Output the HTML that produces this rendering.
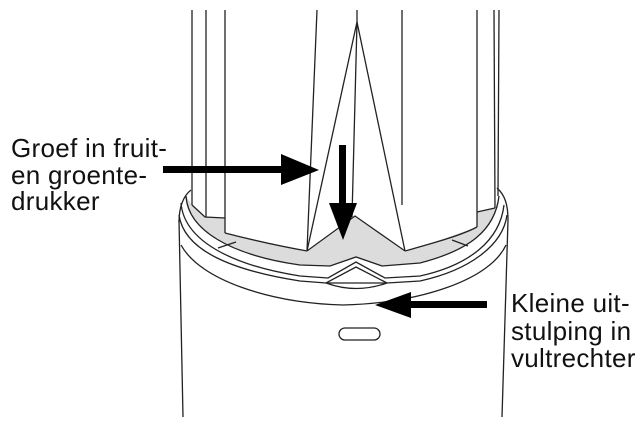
<!DOCTYPE html>
<html><head><style>
html,body{margin:0;padding:0;background:#fff;}
svg{display:block;}
text{font-family:"Liberation Sans",sans-serif;font-size:26px;letter-spacing:0.3px;fill:#111;}
</style></head><body>
<svg width="640" height="423" viewBox="0 0 640 423" xmlns="http://www.w3.org/2000/svg">
<g fill="none" stroke="#222" stroke-width="1.3">
<!-- gray band -->
<path d="M186,196 C188,230 230,255 300,265 L330,266 L356,257 L382,266 L420,263 C470,250 495,230 499,196 L498,208 L477,212 L477,227 L405,252 L355,217 L307,252 L225,233 L225,218 L205,217 L192,205 Z" fill="#dcdcdc" stroke="none"/>
<!-- tube lines -->
<line x1="192" y1="10" x2="192" y2="205"/>
<line x1="206" y1="10" x2="206" y2="217"/>
<line x1="225" y1="10" x2="225" y2="233"/>
<polyline points="192,205 205,217 225,218"/>
<line x1="477" y1="10" x2="477" y2="227"/>
<line x1="494" y1="10" x2="495" y2="208"/>
<line x1="499" y1="10" x2="498" y2="196"/>
<polyline points="477,212 495,208"/>
<line x1="317" y1="10" x2="307" y2="251"/>
<line x1="402" y1="10" x2="402" y2="205"/>
<line x1="357" y1="10" x2="357" y2="22"/>
<!-- spike triangle -->
<line x1="357" y1="22" x2="307" y2="251"/>
<line x1="357" y1="22" x2="352" y2="217"/>
<line x1="357" y1="22" x2="405" y2="251"/>
<polyline points="307,251 355,216 405,251"/>
<!-- gray top edge -->
<path d="M225,233 C260,242 290,248 307,251"/>
<path d="M405,251 C430,244 460,236 477,227"/>
<line x1="218" y1="248" x2="236" y2="242"/>
<line x1="452" y1="240" x2="468" y2="246"/>
<!-- rim lines -->
<path d="M186,196 C188,230 230,255 300,265 L330,266 L356,257 L382,266 L420,263 C470,250 495,230 499,196"/>
<path d="M181,203 C184,240 230,265 300,276 L328,278 L356,262 L385,278 L420,276 C470,265 500,240 504,205"/>
<path d="M179,215 C184,250 230,270 300,281 L326,283 L356,267 L387,283 L420,281 C470,270 503,245 507,215"/>
<path d="M326,283 L387,283 Q356,294 326,283 Z"/>
<path d="M191,190 C183,196 179,208 179,222"/>
<path d="M497,188 C505,195 508,205 508,220"/>
<!-- body top line -->
<path d="M181,245 C200,280 270,303 343,305 C420,303 490,280 506,245"/>
<!-- body sides -->
<line x1="179" y1="220" x2="183" y2="417"/>
<line x1="508" y1="220" x2="502" y2="417"/>
<!-- slot -->
<rect x="339" y="328" width="41" height="12" rx="6"/>
</g>
<!-- arrows -->
<g fill="#000">
<rect x="163" y="166" width="122" height="7"/>
<polygon points="281,154 319,170 281,185"/>
<rect x="339" y="145" width="7" height="62"/>
<polygon points="329,203 357,203 343,240"/>
<rect x="405" y="301" width="82" height="7"/>
<polygon points="411,292 375,305 411,318"/>
</g>
<text x="11" y="157">Groef in fruit-</text>
<text x="11" y="184">en groente-</text>
<text x="11" y="210">drukker</text>
<text x="511" y="312">Kleine uit-</text>
<text x="511" y="340">stulping in</text>
<text x="511" y="367">vultrechter</text>
</svg>
</body></html>
